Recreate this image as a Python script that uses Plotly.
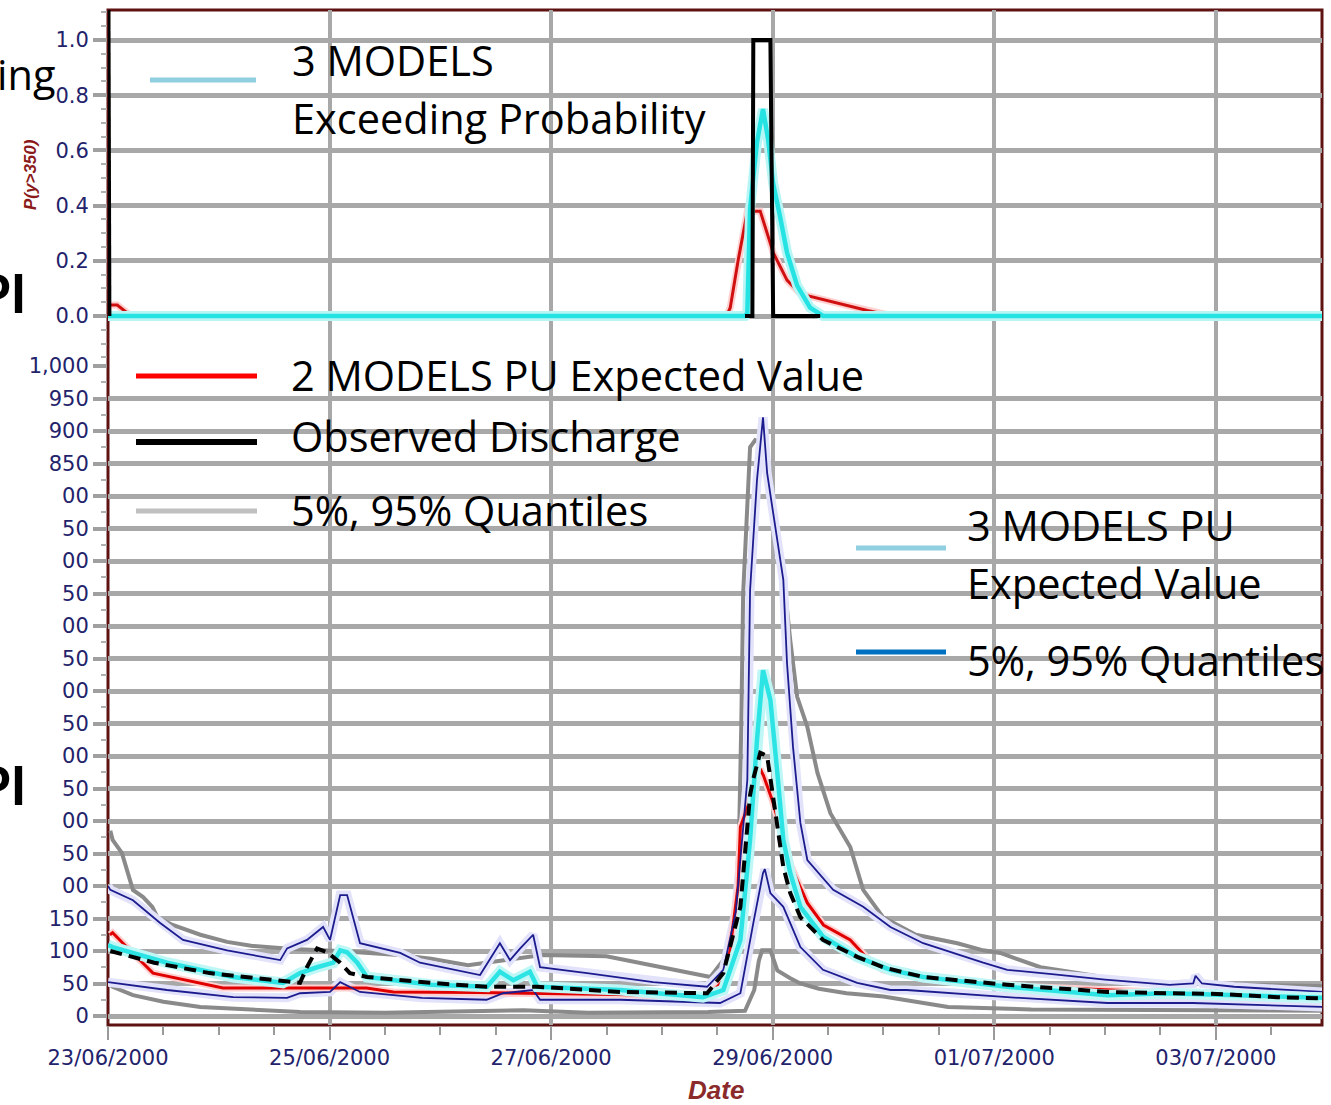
import pandas as pd
import plotly.graph_objects as go
from plotly.subplots import make_subplots

T0 = pd.Timestamp("2000-06-23 00:00")

# ---------------- top panel: P(y>350) ----------------
p3_hours = [0, 138, 138.5, 139.1, 140.6, 141.9, 143.0, 144.1, 145.6, 147.1, 149.3, 152.1, 154.9, 263]
p3_vals = [0, 0, 0.01, 0.39, 0.63, 0.75, 0.64, 0.48, 0.36, 0.23, 0.11, 0.03, 0, 0]

p2_hours = [0, 2, 5, 134, 134.8, 136.5, 138.5, 141.3, 144.1, 147.1, 150, 157.1, 164.5, 170]
p2_vals = [0.04, 0.04, 0, 0, 0.03, 0.2, 0.38, 0.38, 0.23, 0.13, 0.08, 0.05, 0.02, 0]

# observed exceedance (None = no value drawn)
pobs_hours = [0.1, 0.2, 0.3, 0.4, 138, 139.6, 139.8, 143.5, 144.1, 154.3]
pobs_vals = [1.12, 0.5, 0, None, 0, 0, 1, 1, 0, 0]

# ---------------- bottom panel: discharge ----------------
g95_hours = [0.5, 1, 3, 4.8, 5.4, 7.6, 9.6, 10.7, 14, 20, 25.8, 31, 40, 50, 63, 70, 78, 85, 94, 108,
             118, 125, 130.5, 133.3, 134.8, 136, 136.7, 137.2, 137.6, 139.1, 140.2, 142.4, 144.1,
             146.3, 147.8, 149.3, 151.5, 153.7, 156.5, 160.8, 163.6, 167.9, 175, 184, 189.6, 193.3,
             202, 210, 220, 230, 245, 263]
g95_vals = [285, 271, 251, 209, 194, 183, 168, 152, 140, 125, 114, 108, 103, 100, 94, 88, 78, 85, 94, 92,
            78, 68, 60, 86, 117, 180, 271, 450, 650, 875, 886, 880, 780,
            680, 578, 491, 445, 374, 312, 260, 194, 152, 125, 112, 101, 97,
            75, 66, 55, 50, 48, 46]

g05_hours = [0.5, 1, 5.4, 12, 20, 30, 41.6, 60, 80, 90, 104, 130, 138, 140, 141, 141.7, 143.5, 145,
             147.8, 150, 154, 160, 168, 182, 200, 263]
g05_vals = [48, 45, 32, 22, 14, 10, 6, 5, 8, 9, 5, 6, 8, 40, 85, 101, 101, 70,
            58, 50, 42, 35, 30, 14, 10, 8]

red_hours = [0.4, 1, 3.25, 9.75, 24.9, 56, 61.8, 80, 110, 130, 134, 136.5, 137, 139, 140.5, 141.3, 142,
             144, 146, 148, 151.5, 155, 160.8, 165, 167.9, 175, 200, 263]
red_vals = [125, 128, 112, 66, 43, 43, 37, 36, 33, 30, 60, 200, 291, 330, 363, 380, 370,
            330, 280, 230, 174, 140, 117, 85, 71, 60, 45, 27]

obs_hours = [0.5, 10, 22, 37.3, 41.6, 43.1, 45.3, 47.5, 50.3, 52.4, 56.1, 69.8, 82, 93, 111, 129.8,
             133.3, 137, 137.6, 139.1, 139.8, 141.3, 142.8, 143.5, 144.1, 145, 146.3, 147.8, 150,
             154.9, 162.3, 167.9, 176.6, 194.8, 216.5, 230, 240.3, 253.3, 263]
obs_vals = [100, 82, 66, 55, 51, 75, 104, 98, 82, 66, 60, 51, 45, 45, 37, 35,
            66, 168, 220, 340, 365, 405, 400, 365, 335, 291, 229, 189, 152,
            117, 91, 75, 60, 48, 37, 35, 34, 29, 27]

cy_hours = [0, 1, 12.8, 27.1, 37.9, 41.6, 45.3, 48.8, 50.3, 51.8, 54.0, 56.1, 70, 82.1, 84.9, 87.8,
            91.4, 93, 111, 128.9, 133.3, 137, 139.1, 140.6, 141.9, 143.5, 145, 146.3, 147.8, 150,
            154.9, 162.3, 169.5, 176.6, 194.8, 216.5, 229.5, 263]
cy_vals = [109, 106, 82, 60, 51, 66, 75, 82, 101, 98, 82, 60, 48, 45, 68, 55,
           68, 45, 40, 29, 40, 117, 271, 425, 532, 486, 374, 271, 220, 168,
           122, 91, 71, 60, 45, 32, 35, 28]

b95_hours = [0, 0.5, 5.4, 11.3, 16.25, 25.8, 37.3, 38.8, 43.1, 46.6, 48.1, 50.3, 51.8, 54.6, 63.3,
             67.6, 80.6, 84.9, 87.1, 89.3, 92.1, 93.6, 103.8, 118.1, 129.8, 133.3, 136, 138.5,
             139.1, 140.6, 141.9, 142.8, 144.1, 146.3, 147.1, 148.4, 150, 151.5, 157.1, 163.6,
             169.5, 176.6, 189.6, 194.8, 205, 216, 230, 235.1, 235.6, 237, 244, 263]
b95_vals = [200, 194, 178, 143, 117, 101, 86, 104, 117, 137, 117, 186, 186, 112, 97,
            82, 63, 112, 86, 104, 125, 75, 66, 52, 45, 71, 160, 363,
            655, 825, 921, 835, 774, 671, 543, 414, 297, 240, 194, 168,
            137, 112, 82, 71, 64, 56, 48, 50, 62, 50, 45, 37]

b05_hours = [0, 12.8, 27.1, 38.8, 41.6, 48.1, 50.3, 54.6, 68, 82, 85.6, 92.1, 93.6, 111, 132.6,
             137, 139.8, 141.9, 142.3, 143.5, 146.3, 150, 154.9, 162.3, 169.5, 173, 194.8,
             216.5, 235, 263]
b05_vals = [52, 40, 29, 28, 35, 37, 52, 37, 28, 25, 35, 40, 25, 25, 20,
            35, 143, 220, 226, 189, 168, 106, 71, 51, 40, 40, 29,
            20, 20, 14]

y_tickvals = list(range(0, 951, 50))
y_ticktext = ["0", "50", "100", "150", "00", "50", "00", "50", "00", "50", "00", "50",
              "00", "50", "00", "50", "00", "850", "900", "950"]
y_top_tickvals = [1000]
y_top_ticktext = ["1,000"]
p_tickvals = [0, 0.2, 0.4, 0.6, 0.8, 1.0]


def t(hours):
    return [T0 + pd.Timedelta(hours=h) for h in hours]


fig = make_subplots(rows=2, cols=1, shared_xaxes=True)


def add(hours, vals, color, width, row, dash=None):
    fig.add_trace(go.Scatter(x=t(hours), y=vals, mode="lines",
                             line=dict(color=color, width=width, dash=dash),
                             showlegend=False, hoverinfo="skip"), row=row, col=1)


# top panel
add(p2_hours, p2_vals, "#ffd0d0", 7, 1)
add(p2_hours, p2_vals, "#d01010", 3, 1)
add(p3_hours, p3_vals, "#b8f6f6", 10, 1)
add(p3_hours, p3_vals, "#25e3e3", 4.5, 1)
add(pobs_hours, pobs_vals, "#000000", 4, 1)

# bottom panel
add(g95_hours, g95_vals, "#8a8a8a", 4, 2)
add(g05_hours, g05_vals, "#8a8a8a", 4, 2)
add(b95_hours, b95_vals, "#e2e2fb", 9, 2)
add(b05_hours, b05_vals, "#e2e2fb", 9, 2)
add(red_hours, red_vals, "#ffd0d0", 7, 2)
add(red_hours, red_vals, "#e00000", 3, 2)
add(b95_hours, b95_vals, "#1c1c8e", 1.8, 2)
add(b05_hours, b05_vals, "#1c1c8e", 1.8, 2)
add(cy_hours, cy_vals, "#bff7f7", 11, 2)
add(cy_hours, cy_vals, "#2ce4e4", 4.5, 2)
add(obs_hours, obs_vals, "#000000", 4, 2, dash="12px,7px")
# invisible carrier for the overlay axis holding the "1,000" label
fig.add_trace(go.Scatter(x=t(obs_hours), y=obs_vals, mode="lines", opacity=0,
                         line=dict(width=0), showlegend=False, hoverinfo="skip",
                         xaxis="x2", yaxis="y3"))

W, H = 1331, 1105
L, R, TOP, B = 108, 9, 10, 80
PW, PH = W - L - R, H - TOP - B


def px(x):
    return (x - L) / PW


def py(y):
    return (H - B - y) / PH


GRID = "#a8a8a8"
TICKFONT = dict(family="DejaVu Sans", size=21, color="#23236b")
DAY2 = 2 * 86400000
SPLIT = py(366)

xcommon = dict(range=[T0, T0 + pd.Timedelta(hours=263)], dtick=DAY2, tick0=T0,
               showgrid=True, gridcolor=GRID, gridwidth=4, zeroline=False, automargin=False)
fig.update_xaxes(**xcommon)
yticks = dict(ticks="outside", ticklen=14, tickwidth=4, tickcolor="#a0a0a0", tickfont=TICKFONT,
              automargin=False)
fig.update_layout(
    xaxis=dict(showticklabels=False, ticks=""),
    xaxis2=dict(tickformat="%d/%m/%Y", ticks="outside", ticklen=14, tickwidth=2,
                tickcolor="#9a9a9a", tickfont=TICKFONT,
                minor=dict(dtick=DAY2 / 4, ticks="outside", ticklen=9, tickwidth=2,
                           tickcolor="#9a9a9a", showgrid=False)),
    yaxis=dict(domain=[SPLIT, 1.0], range=[-0.087 - 26 / 276, 1.109], tickvals=p_tickvals,
               tickformat=".1f", showgrid=True, gridcolor=GRID, gridwidth=5, zeroline=False,
               minor=dict(dtick=0.05, ticks="outside", ticklen=6, tickwidth=2, tickcolor="#b0b0b0",
                          showgrid=False), **yticks),
    yaxis2=dict(domain=[0.0, SPLIT], range=[-13.85, 1000], tickvals=y_tickvals,
                ticktext=y_ticktext, showgrid=True, gridcolor=GRID, gridwidth=5, zeroline=False,
                minor=dict(dtick=25, ticks="outside", ticklen=6, tickwidth=2, tickcolor="#b0b0b0",
                           showgrid=False), **yticks),
    yaxis3=dict(overlaying="y2", anchor="x2", side="left", range=[-13.85, 1000],
                tickvals=y_top_tickvals, ticktext=y_top_ticktext, showgrid=False,
                zeroline=False, **yticks),
)

shapes = [dict(type="rect", xref="paper", yref="paper", x0=0, x1=1, y0=0, y1=1,
               line=dict(color="#5e1212", width=3), layer="between")]
legend_lines = [
    (150, 256, 80, "#8fcfe0", 5),
    (136, 257, 376, "#ff0000", 5),
    (136, 257, 442, "#000000", 6),
    (136, 257, 511, "#c0c0c0", 5),
    (856, 946, 548, "#8fcfe0", 5),
    (856, 946, 652, "#0070c0", 5),
]
for x0, x1, y, c, w in legend_lines:
    shapes.append(dict(type="line", xref="paper", yref="paper", x0=px(x0), x1=px(x1),
                       y0=py(y), y1=py(y), line=dict(color=c, width=w), layer="above"))

LEG = dict(family="Open Sans", size=41.5, color="#000000")
legend_texts = [
    (290, 60, "3 MODELS"),
    (290, 118, "Exceeding Probability"),
    (289, 375, "2 MODELS PU Expected Value"),
    (289, 436, "Observed Discharge"),
    (289, 510, "5%, 95% Quantiles"),
    (965, 525, "3 MODELS PU"),
    (965, 583, "Expected Value"),
    (965, 660, "5%, 95% Quantiles"),
]
ann = []
for x, y, s in legend_texts:
    ann.append(dict(text=s, xref="paper", yref="paper", x=px(x), y=py(y), xanchor="left",
                    yanchor="middle", showarrow=False, font=LEG))
ann.append(dict(text="ing", xref="paper", yref="paper", x=px(57), y=py(74), xanchor="right",
                yanchor="middle", showarrow=False, font=LEG))
for yy in (292, 784):
    ann.append(dict(text="<b>PI</b>", xref="paper", yref="paper", x=px(28), y=py(yy),
                    xanchor="right", yanchor="middle", showarrow=False,
                    font=dict(family="Lato", size=54, color="#000000")))
ann.append(dict(text="<i><b>P(y>350)</b></i>", xref="paper", yref="paper", x=px(30), y=py(175),
                textangle=-90, xanchor="center", yanchor="middle", showarrow=False,
                font=dict(family="Liberation Sans", size=17, color="#8b1a1a")))
ann.append(dict(text="<i><b>Date</b></i>", xref="paper", yref="paper", x=px(716), y=py(1090),
                xanchor="center", yanchor="middle", showarrow=False,
                font=dict(family="Liberation Sans", size=26, color="#8b2a2a")))

fig.update_layout(width=W, height=H, margin=dict(l=L, r=R, t=TOP, b=B, pad=0, autoexpand=False),
                  paper_bgcolor="#ffffff", plot_bgcolor="#ffffff",
                  shapes=shapes, annotations=ann, showlegend=False)

fig.write_html("out.html", config={"displayModeBar": False},
               post_script="document.body.style.margin='0';")
